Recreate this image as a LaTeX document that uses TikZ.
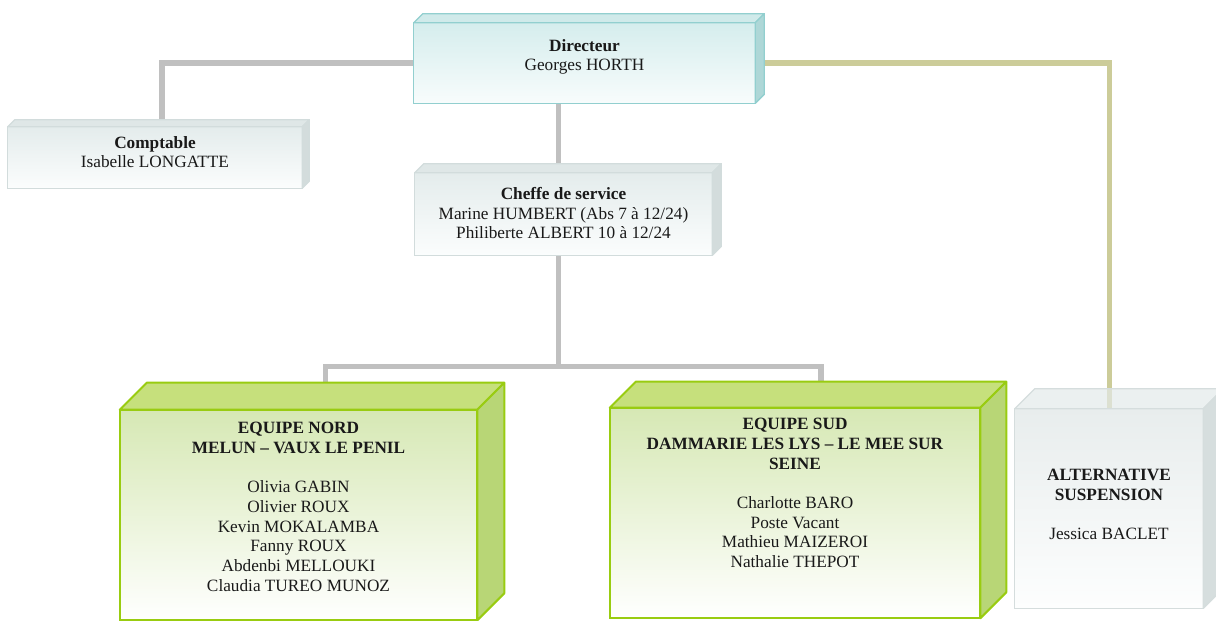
\documentclass[tikz,border=0pt]{standalone}
\usepackage{fontspec}
\setmainfont{Liberation Serif}
\usetikzlibrary{fit}

\definecolor{linegrey}{HTML}{C0C0C0}
\definecolor{lineolive}{HTML}{CCCC99}
\definecolor{dirfront}{HTML}{D5EDED}
\definecolor{dirlow}{HTML}{F8FCFC}
\definecolor{diredge}{HTML}{92CFCF}
\definecolor{dirtop}{HTML}{D0EAEA}
\definecolor{dirside}{HTML}{AED7D7}
\definecolor{greyfront}{HTML}{E4ECEC}
\definecolor{greylow}{HTML}{FBFDFD}
\definecolor{greyedge}{HTML}{D2DCDC}
\definecolor{greytop}{HTML}{DFE7E7}
\definecolor{greyside}{HTML}{D3DCDC}
\definecolor{greenfront}{HTML}{D6E8B4}
\definecolor{greenlow}{HTML}{FFFFFF}
\definecolor{greenedge}{HTML}{99CC11}
\definecolor{greentop}{HTML}{C6E07C}
\definecolor{greenside}{HTML}{B8D676}
\definecolor{palefront}{HTML}{E8EDED}
\definecolor{palelow}{HTML}{FDFEFE}
\definecolor{paleedge}{HTML}{D5DDDD}
\definecolor{paletop}{HTML}{E3E9E9}
\definecolor{paleside}{HTML}{D6DEDE}

\begin{document}
\begin{tikzpicture}[x=0.6957pt,y=-0.6957pt,
    face/.style={inner sep=0pt},
    txt/.style={anchor=north,inner sep=0pt,align=center,text=black!90,font=\fontsize{12}{13.7}\selectfont},
    greyline/.style={draw=linegrey,line width=3.5pt},
    oliveline/.style={draw=lineolive,line width=3.5pt}]
  \useasboundingbox (0,0) rectangle (1216,621);

  \node[face,fit={(414,23) (755,103)}] (dir) {};
  \node[face,fit={(8,127) (302,188)}] (compta) {};
  \node[face,fit={(415,173) (712,255)}] (chef) {};
  \node[face,fit={(120,410) (477,620)}] (nord) {};
  \node[face,fit={(610,408) (980,618)}] (sud) {};
  \node[face,fit={(1015,409) (1203,608)}] (alt) {};

  \draw[greyline] (dir.west) -| ([shift={(7,-7)}]compta.north);
  \draw[greyline] ([xshift=-3.5pt]chef.north) -- ([xshift=-3.5pt]chef.north |- dir.south);
  \draw[greyline] ([xshift=-3.5pt]chef.south) -- ++(0,111) coordinate (bus);
  \draw[greyline] ([shift={(27,-27)}]nord.north) |- (bus) -| ([shift={(26,-26)}]sud.north);
  \draw[oliveline] (dir.east) -| (alt.north);

  \foreach \b/\d/\kind/\w/\op in {dir/9/dir/0.9/1, compta/7/grey/0.9/1, chef/9/grey/0.9/1,
      nord/27/green/1.4/1, sud/26/green/1.4/1, alt/20/pale/0.9/0.7}{
    \shadedraw[top color=\kind front, bottom color=\kind low, draw=\kind edge, line width=\w pt]
      (\b.north west) rectangle (\b.south east);
    \filldraw[fill=\kind top, fill opacity=\op, draw=\kind edge, line width=\w pt, line join=round]
      (\b.north west) -- ++(\d,-\d) -- ([shift={(\d,-\d)}]\b.north east) -- (\b.north east) -- cycle;
    \filldraw[fill=\kind side, draw=\kind edge, line width=\w pt, line join=round]
      (\b.north east) -- ++(\d,-\d) -- ([shift={(\d,-\d)}]\b.south east) -- (\b.south east) -- cycle;
  }

  \node[txt] (dirtxt) at (584.5,39) {\textbf{Directeur}\\Georges HORTH};
  \node[txt] (comptatxt) at (155,136) {\textbf{Comptable}\\Isabelle LONGATTE};
  \node[txt] (cheftxt) at (563.5,187) {\textbf{Cheffe de service}\\Marine HUMBERT (Abs 7 à 12/24)\\Philiberte ALBERT 10 à 12/24};
  \node[txt] (nordtxt) at (298.5,422) {\textbf{EQUIPE NORD}\\\textbf{MELUN – VAUX LE PENIL}\\[13.7pt]
    Olivia GABIN\\Olivier ROUX\\Kevin MOKALAMBA\\Fanny ROUX\\Abdenbi MELLOUKI\\Claudia TUREO MUNOZ};
  \node[txt] (sudtxt) at (795,418) {\textbf{EQUIPE SUD}\\\textbf{DAMMARIE LES LYS – LE MEE SUR}\\\textbf{SEINE}\\[13.7pt]
    Charlotte BARO\\Poste Vacant\\Mathieu MAIZEROI\\Nathalie THEPOT};
  \node[txt] (alttxt) at (1109,469) {\textbf{ALTERNATIVE}\\\textbf{SUSPENSION}\\[13.7pt]Jessica BACLET};
\end{tikzpicture}
\end{document}
